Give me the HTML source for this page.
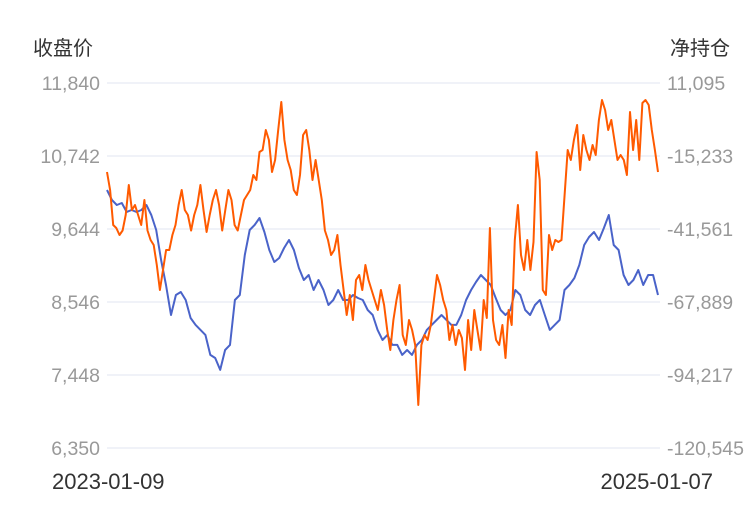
<!DOCTYPE html>
<html><head><meta charset="utf-8"><style>
body{margin:0;background:#fff;}
svg{display:block;font-family:"Liberation Sans","Noto Sans CJK SC",sans-serif;}
</style></head><body>
<svg id="chart" width="750" height="510">
<text x="33" y="55" font-size="20" fill="#333">收盘价</text>
<text x="730" y="55" font-size="20" fill="#333" text-anchor="end">净持仓</text>
<g id="grid"></g>
<g id="series"></g>
<text x="52" y="489" font-size="22" fill="#333">2023-01-09</text>
<text x="713" y="489" font-size="22" fill="#333" text-anchor="end">2025-01-07</text>
</svg>
<script>
const leftTicks=[11840,10742,9644,8546,7448,6350];
const rightTicks=[11095,-15233,-41561,-67889,-94217,-120545];
const closePrice=[10231,10081,10005,10035,9900,9930,9900,9930,10005,9855,9629,9178,8802,8351,8652,8697,8576,8306,8201,8126,8051,7750,7704,7524,7824,7900,8576,8652,9253,9629,9704,9810,9599,9328,9148,9208,9358,9479,9328,9058,8877,8952,8727,8877,8727,8501,8576,8727,8576,8576,8652,8606,8576,8426,8351,8126,7975,8051,7900,7900,7750,7824,7750,7900,7975,8126,8201,8276,8351,8276,8201,8201,8351,8576,8727,8847,8952,8877,8802,8606,8426,8351,8426,8727,8652,8426,8351,8501,8576,8351,8126,8201,8276,8727,8802,8907,9103,9404,9524,9599,9479,9659,9855,9404,9328,8952,8802,8877,9028,8802,8952,8952,8652];
const netPosition=[-21004,-27496,-40119,-41201,-43725,-42102,-36512,-25692,-34709,-32906,-36512,-40119,-31102,-42102,-45529,-47332,-54545,-63562,-56348,-49135,-49135,-43725,-40119,-32906,-27496,-34709,-36512,-42102,-36512,-32906,-25692,-34709,-42643,-36512,-31102,-27496,-32906,-42102,-34709,-27496,-31102,-40119,-42102,-36512,-31102,-29299,-27496,-22086,-23889,-13791,-13069,-5856,-9463,-21004,-16676,-5856,4242,-9463,-16676,-20283,-27496,-29299,-22086,-7659,-5856,-13069,-23889,-16676,-23889,-31102,-42102,-45529,-50939,-49135,-43725,-54545,-63562,-72578,-65365,-74382,-59955,-58152,-63562,-54545,-59955,-63562,-67168,-70775,-63562,-68972,-77988,-85201,-74382,-67168,-61758,-79792,-83398,-74382,-77988,-83398,-105038,-83398,-79792,-81595,-76185,-67168,-58152,-61758,-67168,-70775,-81595,-76185,-83398,-77988,-80873,-92414,-74382,-85201,-70775,-77988,-85201,-67168,-73660,-41201,-74382,-81595,-83398,-76185,-88087,-70775,-76185,-45529,-32906,-50939,-56348,-45529,-56348,-46250,-13791,-23889,-63562,-65365,-43725,-49135,-45529,-46250,-45529,-29299,-13069,-16676,-9463,-4053,-20283,-7659,-13069,-16676,-11266,-14873,-2249,4964,1357,-5856,-2249,-9463,-16676,-14873,-16676,-22086,635,-13069,-2249,-16676,3882,4964,3160,-5856,-13069,-21004];
const NS='http://www.w3.org/2000/svg';
const X0=107,X1=658,YT=83,YB=448;
const yL=v=>YT+(leftTicks[0]-v)/(leftTicks[0]-leftTicks[5])*(YB-YT);
const yR=v=>YT+(rightTicks[0]-v)/(rightTicks[0]-rightTicks[5])*(YB-YT);
const grid=document.getElementById('grid');
leftTicks.forEach((t,i)=>{
  const y=yL(t);
  const l=document.createElementNS(NS,'line');
  l.setAttribute('x1',X0);l.setAttribute('x2',660);l.setAttribute('y1',y);l.setAttribute('y2',y);
  l.setAttribute('stroke','#e0e6f1');l.setAttribute('stroke-width','1');
  
  
  grid.appendChild(l);
  const a=document.createElementNS(NS,'text');
  a.setAttribute('x',100);a.setAttribute('y',y+7);a.setAttribute('text-anchor','end');
  a.setAttribute('font-size','19.5');a.setAttribute('fill','#999');
  a.textContent=t.toLocaleString('en-US');
  
  
  grid.appendChild(a);
  const b=document.createElementNS(NS,'text');
  b.setAttribute('x',667);b.setAttribute('y',y+7);
  b.setAttribute('font-size','19.5');b.setAttribute('fill','#999');
  b.textContent=rightTicks[i].toLocaleString('en-US');
  
  
  grid.appendChild(b);
});
function draw(arr,fy,color,name){
  const n=arr.length;
  const d=arr.map((v,i)=>(i?'L':'M')+(X0+i*(X1-X0)/(n-1)).toFixed(1)+','+fy(v).toFixed(1)).join('');
  const p=document.createElementNS(NS,'path');
  p.setAttribute('d',d);p.setAttribute('fill','none');p.setAttribute('stroke',color);
  p.setAttribute('stroke-width','2');p.setAttribute('stroke-linejoin','round');
  
  
  document.getElementById('series').appendChild(p);
}
draw(closePrice,yL,'#4a63c9','close-price-line');
draw(netPosition,yR,'#ff5a00','net-position-line');
</script>
</body></html>
